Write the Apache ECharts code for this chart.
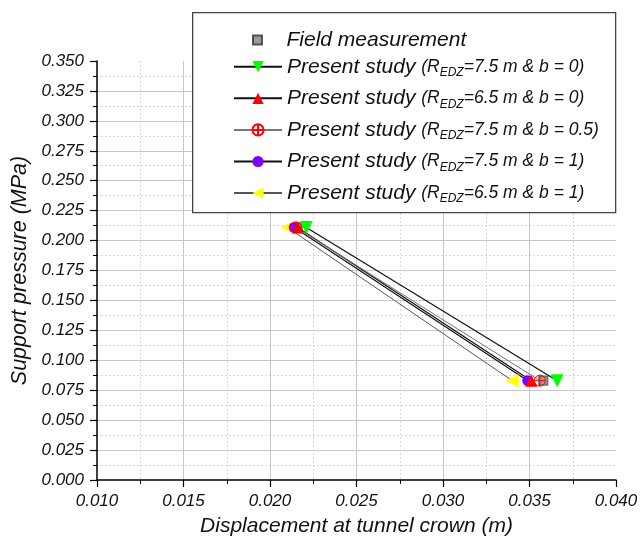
<!DOCTYPE html>
<html>
<head>
<meta charset="utf-8">
<script src="https://cdn.jsdelivr.net/npm/echarts@6/dist/echarts.min.js"></script>
<style>html,body{margin:0;padding:0;background:#fff}#c{width:641px;height:542px}</style>
</head>
<body>
<div id="c"></div>
<script>
// ---- data ----
var fieldName = 'Field measurement';
var fieldData = [[0.0216, 0.211], [0.0358, 0.083]];

var studyNames = [
  'Present study (R_EDZ=7.5 m & b = 0)',
  'Present study (R_EDZ=6.5 m & b = 0)',
  'Present study (R_EDZ=7.5 m & b = 0.5)',
  'Present study (R_EDZ=7.5 m & b = 1)',
  'Present study (R_EDZ=6.5 m & b = 1)'
];
var studyTails = ['=7.5 m & b = 0)', '=6.5 m & b = 0)', '=7.5 m & b = 0.5)', '=7.5 m & b = 1)', '=6.5 m & b = 1)'];
var green75b0  = [[0.0221, 0.211], [0.0366, 0.083]];
var red65b0    = [[0.0216, 0.211], [0.0351, 0.083]];
var cross75b05 = [[0.0215, 0.211], [0.0356, 0.083]];
var purple75b1 = [[0.0214, 0.211], [0.0349, 0.083]];
var yellow65b1 = [[0.0210, 0.211], [0.0340, 0.083]];

var xMin = 0.010, xMax = 0.040, xStep = 0.005;
var yMin = 0.000, yMax = 0.350, yStep = 0.025;

// ---- chart ----
var FF = '"Liberation Sans", Arial, sans-serif';
var chart = echarts.init(document.getElementById('c'), null, {renderer: 'canvas'});
var crossPath = 'path://M10,0A10,10,0,1,1,-10,0A10,10,0,1,1,10,0ZM-10,0L10,0M0,-10L0,10';

function lineSeries(name, data, symbol, size, rot, color, lineColor, lw, extraItem) {
  var it = {color: color};
  if (extraItem) { for (var k in extraItem) it[k] = extraItem[k]; }
  return {
    name: name, type: 'line', data: data, symbol: symbol, symbolSize: size,
    symbolRotate: rot, showAllSymbol: true, animation: false,
    lineStyle: {color: lineColor, width: lw},
    itemStyle: it, emphasis: {disabled: true}
  };
}

var axisCommon = {
  axisLine: {show: true, onZero: false, lineStyle: {color: '#000', width: 1.5}},
  axisTick: {show: true, inside: false, length: 7, lineStyle: {color: '#000', width: 1.2}},
  minorTick: {show: true, splitNumber: 2, length: 4, lineStyle: {color: '#000', width: 1}},
  splitLine: {show: true, showMinLine: false, showMaxLine: false, lineStyle: {color: '#c8c8c8', width: 1}},
  minorSplitLine: {show: true, lineStyle: {color: '#d8d8d8', width: 1, type: [2, 2]}},
  nameLocation: 'middle'
};

var option = {
  backgroundColor: '#fff',
  animation: false,
  grid: {left: 97, right: 25, top: 61, bottom: 59, containLabel: false},
  xAxis: Object.assign({}, axisCommon, {
    type: 'value', min: xMin, max: xMax, interval: xStep,
    name: 'Displacement at tunnel crown (m)', nameGap: 36,
    nameTextStyle: {fontFamily: FF, fontStyle: 'italic', fontSize: 21, color: '#111'},
    axisLabel: {margin: 13, fontFamily: FF, fontStyle: 'italic', fontSize: 17, color: '#111',
      formatter: function (v) { return v.toFixed(3); }}
  }),
  yAxis: Object.assign({}, axisCommon, {
    type: 'value', min: yMin, max: yMax, interval: yStep,
    name: 'Support pressure (MPa)', nameGap: 64,
    nameTextStyle: {fontFamily: FF, fontStyle: 'italic', fontSize: 21.5, color: '#111'},
    axisLabel: {margin: 13, fontFamily: FF, fontStyle: 'italic', fontSize: 17, color: '#111',
      formatter: function (v) { return v.toFixed(3); }}
  }),
  graphic: [{
    type: 'rect', z: 3, left: 192, top: 12,
    shape: {width: 423, height: 200},
    style: {fill: '#fff', stroke: '#444', lineWidth: 1.3}
  }],
  legend: [{
    data: [fieldName], orient: 'vertical', left: 252, top: 28, padding: 0,
    itemWidth: 48, itemHeight: 9, selectedMode: false, z: 5,
    icon: 'path://M0,0H10V10H0Z',
    textStyle: {fontFamily: FF, fontStyle: 'italic', fontSize: 21, color: '#111', lineHeight: 24}
  }, {
    data: studyNames, orient: 'vertical', left: 233, top: 54.7, padding: 0,
    itemWidth: 48, itemHeight: 14, itemGap: 7.6, selectedMode: false, z: 5,
    formatter: function (name) {
      var i = studyNames.indexOf(name);
      return '{a|Present study }{b|(R}{s|EDZ}{b|' + studyTails[i] + '}';
    },
    textStyle: {
      fontFamily: FF, fontStyle: 'italic', fontSize: 21, color: '#111', lineHeight: 24,
      rich: {
        a: {fontFamily: FF, fontStyle: 'italic', fontSize: 21, color: '#111', lineHeight: 24},
        b: {fontFamily: FF, fontStyle: 'italic', fontSize: 17.5, color: '#111', lineHeight: 24},
        s: {fontFamily: FF, fontStyle: 'italic', fontSize: 12, color: '#111', lineHeight: 6, verticalAlign: 'bottom'}
      }
    }
  }],
  series: [
    lineSeries(studyNames[4], yellow65b1, 'triangle', 13, 90, '#ffff00', '#555', 1),
    lineSeries(studyNames[3], purple75b1, 'circle', 11, 0, '#8000ff', '#111', 1.2),
    lineSeries(studyNames[1], red65b0, 'triangle', 12, 0, '#ff0000', '#111', 1.2),
    lineSeries(studyNames[0], green75b0, 'triangle', 13, 180, '#00ff00', '#111', 1.2),
    {
      name: fieldName, type: 'scatter', data: fieldData, symbol: 'rect', symbolSize: 9,
      itemStyle: {color: '#808080', borderColor: '#333', borderWidth: 1}, emphasis: {disabled: true}
    },
    lineSeries(studyNames[2], cross75b05, crossPath, 11, 0, 'rgba(0,0,0,0)', '#777', 1,
      {borderColor: '#ff0000', borderWidth: 1})
  ]
};
chart.setOption(option);
</script>
</body>
</html>
